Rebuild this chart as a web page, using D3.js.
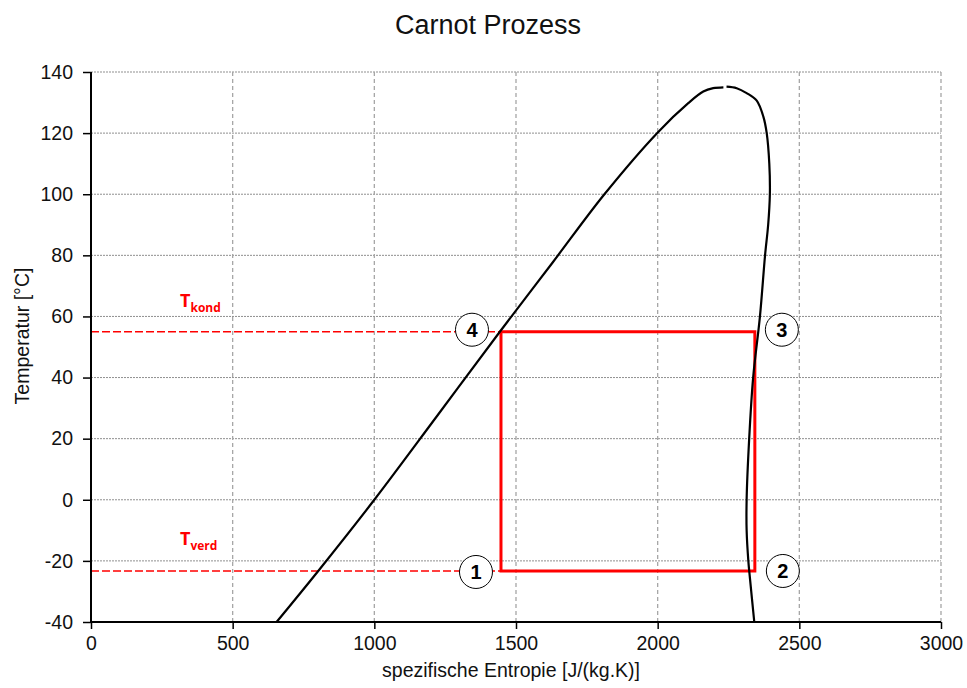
<!DOCTYPE html>
<html><head><meta charset="utf-8">
<script src="https://cdn.jsdelivr.net/npm/d3@7/dist/d3.min.js"></script>
<style>
html,body{margin:0;padding:0;background:#fff;}
svg{display:block;font-family:"Liberation Sans",Arial,sans-serif;}
</style></head>
<body>
<svg id="chart" width="967" height="688"></svg>
<script>
// ---- data ----
const title = "Carnot Prozess";
const xLabel = "spezifische Entropie [J/(kg.K)]";
const yLabel = "Temperatur [°C]";
const xTicks = [0, 500, 1000, 1500, 2000, 2500, 3000];
const yTicks = [-40, -20, 0, 20, 40, 60, 80, 100, 120, 140];

// saturated liquid line (entropy, temperature)
const liquidS = [655, 802, 1000, 1222, 1443, 1628, 1812, 2002, 2108, 2161, 2196, 2232];
const liquidT = [-40, -23.3, 0, 27.5, 55, 77.5, 100, 120.4, 129.8, 133.6, 134.7, 135];

// saturated vapour line
const vaporS = [2243, 2279, 2314, 2349, 2373, 2385, 2394, 2396, 2390, 2379, 2361, 2337, 2323, 2314, 2314, 2320, 2326, 2341];
const vaporT = [135.2, 134.7, 133.1, 130.7, 125.4, 119.9, 110, 100, 90, 80, 60, 40, 20, 0, -10, -20, -26, -40];

// Carnot cycle state points 1..4
const cycleLabels = ["1", "2", "3", "4"];
const cycleS = [1447, 2343, 2343, 1447];
const cycleT = [-23.3, -23.3, 55, 55];

const tempLabels = [{main: "T", sub: "kond", T: 55}, {main: "T", sub: "verd", T: -23.3}];

// ---- layout ----
const svg = d3.select("#chart");
const m = {left: 91, right: 941, top: 72, bottom: 622};
const x = d3.scaleLinear().domain([0, 3000]).range([m.left, m.right]);
const y = d3.scaleLinear().domain([-40, 140]).range([m.bottom, m.top]);

// grid
svg.append("g").selectAll("line").data(yTicks.filter(d => d > -40)).join("line")
  .attr("x1", m.left).attr("x2", m.right).attr("y1", d => y(d)).attr("y2", d => y(d))
  .attr("stroke", "#8f8f8f").attr("stroke-width", 1).attr("stroke-dasharray", "2,1");
svg.append("g").selectAll("line").data(xTicks.filter(d => d > 0)).join("line")
  .attr("x1", d => x(d)).attr("x2", d => x(d)).attr("y1", m.top).attr("y2", m.bottom)
  .attr("stroke", "#a6a6a6").attr("stroke-width", 1.3).attr("stroke-dasharray", "4,3");

// dashed temperature level lines
const levelEnd = d3.min(cycleS);
svg.append("g").selectAll("line").data(tempLabels).join("line")
  .attr("x1", x(0)).attr("x2", x(levelEnd)).attr("y1", d => y(d.T)).attr("y2", d => y(d.T))
  .attr("stroke", "#ff0000").attr("stroke-width", 1.5).attr("stroke-dasharray", "8,3");

// cycle rectangle
const cyc = cycleS.map((s, i) => [s, cycleT[i]]);
const line = d3.line().x(d => x(d[0])).y(d => y(d[1]));
svg.append("path").attr("d", line(cyc) + "Z")
  .attr("fill", "none").attr("stroke", "#ff0000").attr("stroke-width", 3);

// saturation curves
const curve = d3.line().x(d => x(d[0])).y(d => y(d[1])).curve(d3.curveCatmullRom.alpha(0.5));
svg.append("path").attr("d", curve(liquidS.map((s, i) => [s, liquidT[i]])))
  .attr("fill", "none").attr("stroke", "#000").attr("stroke-width", 2.2);
svg.append("path").attr("d", curve(vaporS.map((s, i) => [s, vaporT[i]])))
  .attr("fill", "none").attr("stroke", "#000").attr("stroke-width", 2.2);

// state point markers
const offsets = [[-25, 1], [28, 0], [27, -2], [-29, -2]];
const mk = svg.append("g").selectAll("g").data(cycleLabels).join("g")
  .attr("transform", (d, i) => `translate(${x(cycleS[i]) + offsets[i][0]},${y(cycleT[i]) + offsets[i][1]})`);
mk.append("circle").attr("r", 16.5).attr("fill", "#fff").attr("stroke", "#000").attr("stroke-width", 1);
mk.append("text").text(d => d).attr("text-anchor", "middle").attr("dy", "0.36em")
  .attr("font-size", 20).attr("font-weight", "bold").attr("fill", "#000");

// T labels
const tl = svg.append("g").selectAll("text").data(tempLabels).join("text")
  .attr("x", 180).attr("y", (d, i) => y(d.T) - (i === 0 ? 25 : 26))
  .attr("fill", "#ff0000").attr("font-weight", "bold")
  .attr("font-family", "'Open Sans','Liberation Sans',sans-serif");
tl.append("tspan").text(d => d.main).attr("font-size", 18);
tl.append("tspan").text(d => d.sub).attr("font-size", 12).attr("dy", 5);

// axes
const fmt = d => String(d);
const yAxis = svg.append("g").attr("transform", `translate(${m.left},0)`)
  .call(d3.axisLeft(y).tickValues(yTicks).tickSize(8).tickPadding(10).tickFormat(fmt));
const xAxis = svg.append("g").attr("transform", `translate(0,${m.bottom})`)
  .call(d3.axisBottom(x).tickValues(xTicks).tickSize(7).tickPadding(7).tickFormat(fmt));
[xAxis, yAxis].forEach(a => {
  a.select(".domain").attr("stroke", "#000").attr("stroke-width", 2);
  a.selectAll(".tick line").attr("stroke", "#000").attr("stroke-width", 1.5);
  a.selectAll(".tick text").attr("font-size", 19.5).attr("fill", "#111")
    .attr("font-family", "'Liberation Sans',Arial,sans-serif");
});
xAxis.select(".domain").attr("d", `M${m.left},0H${m.right}`);
yAxis.select(".domain").attr("d", `M0,${m.bottom}V${m.top}`);

// titles
svg.append("text").text(title).attr("x", 488).attr("y", 34).attr("text-anchor", "middle")
  .attr("font-size", 27).attr("fill", "#111");
svg.append("text").text(xLabel).attr("x", 511).attr("y", 677).attr("text-anchor", "middle")
  .attr("font-size", 19.5).attr("fill", "#111");
svg.append("text").text(yLabel).attr("transform", "translate(29,336) rotate(-90)")
  .attr("text-anchor", "middle").attr("font-size", 19.5).attr("fill", "#111");
</script>
</body></html>
